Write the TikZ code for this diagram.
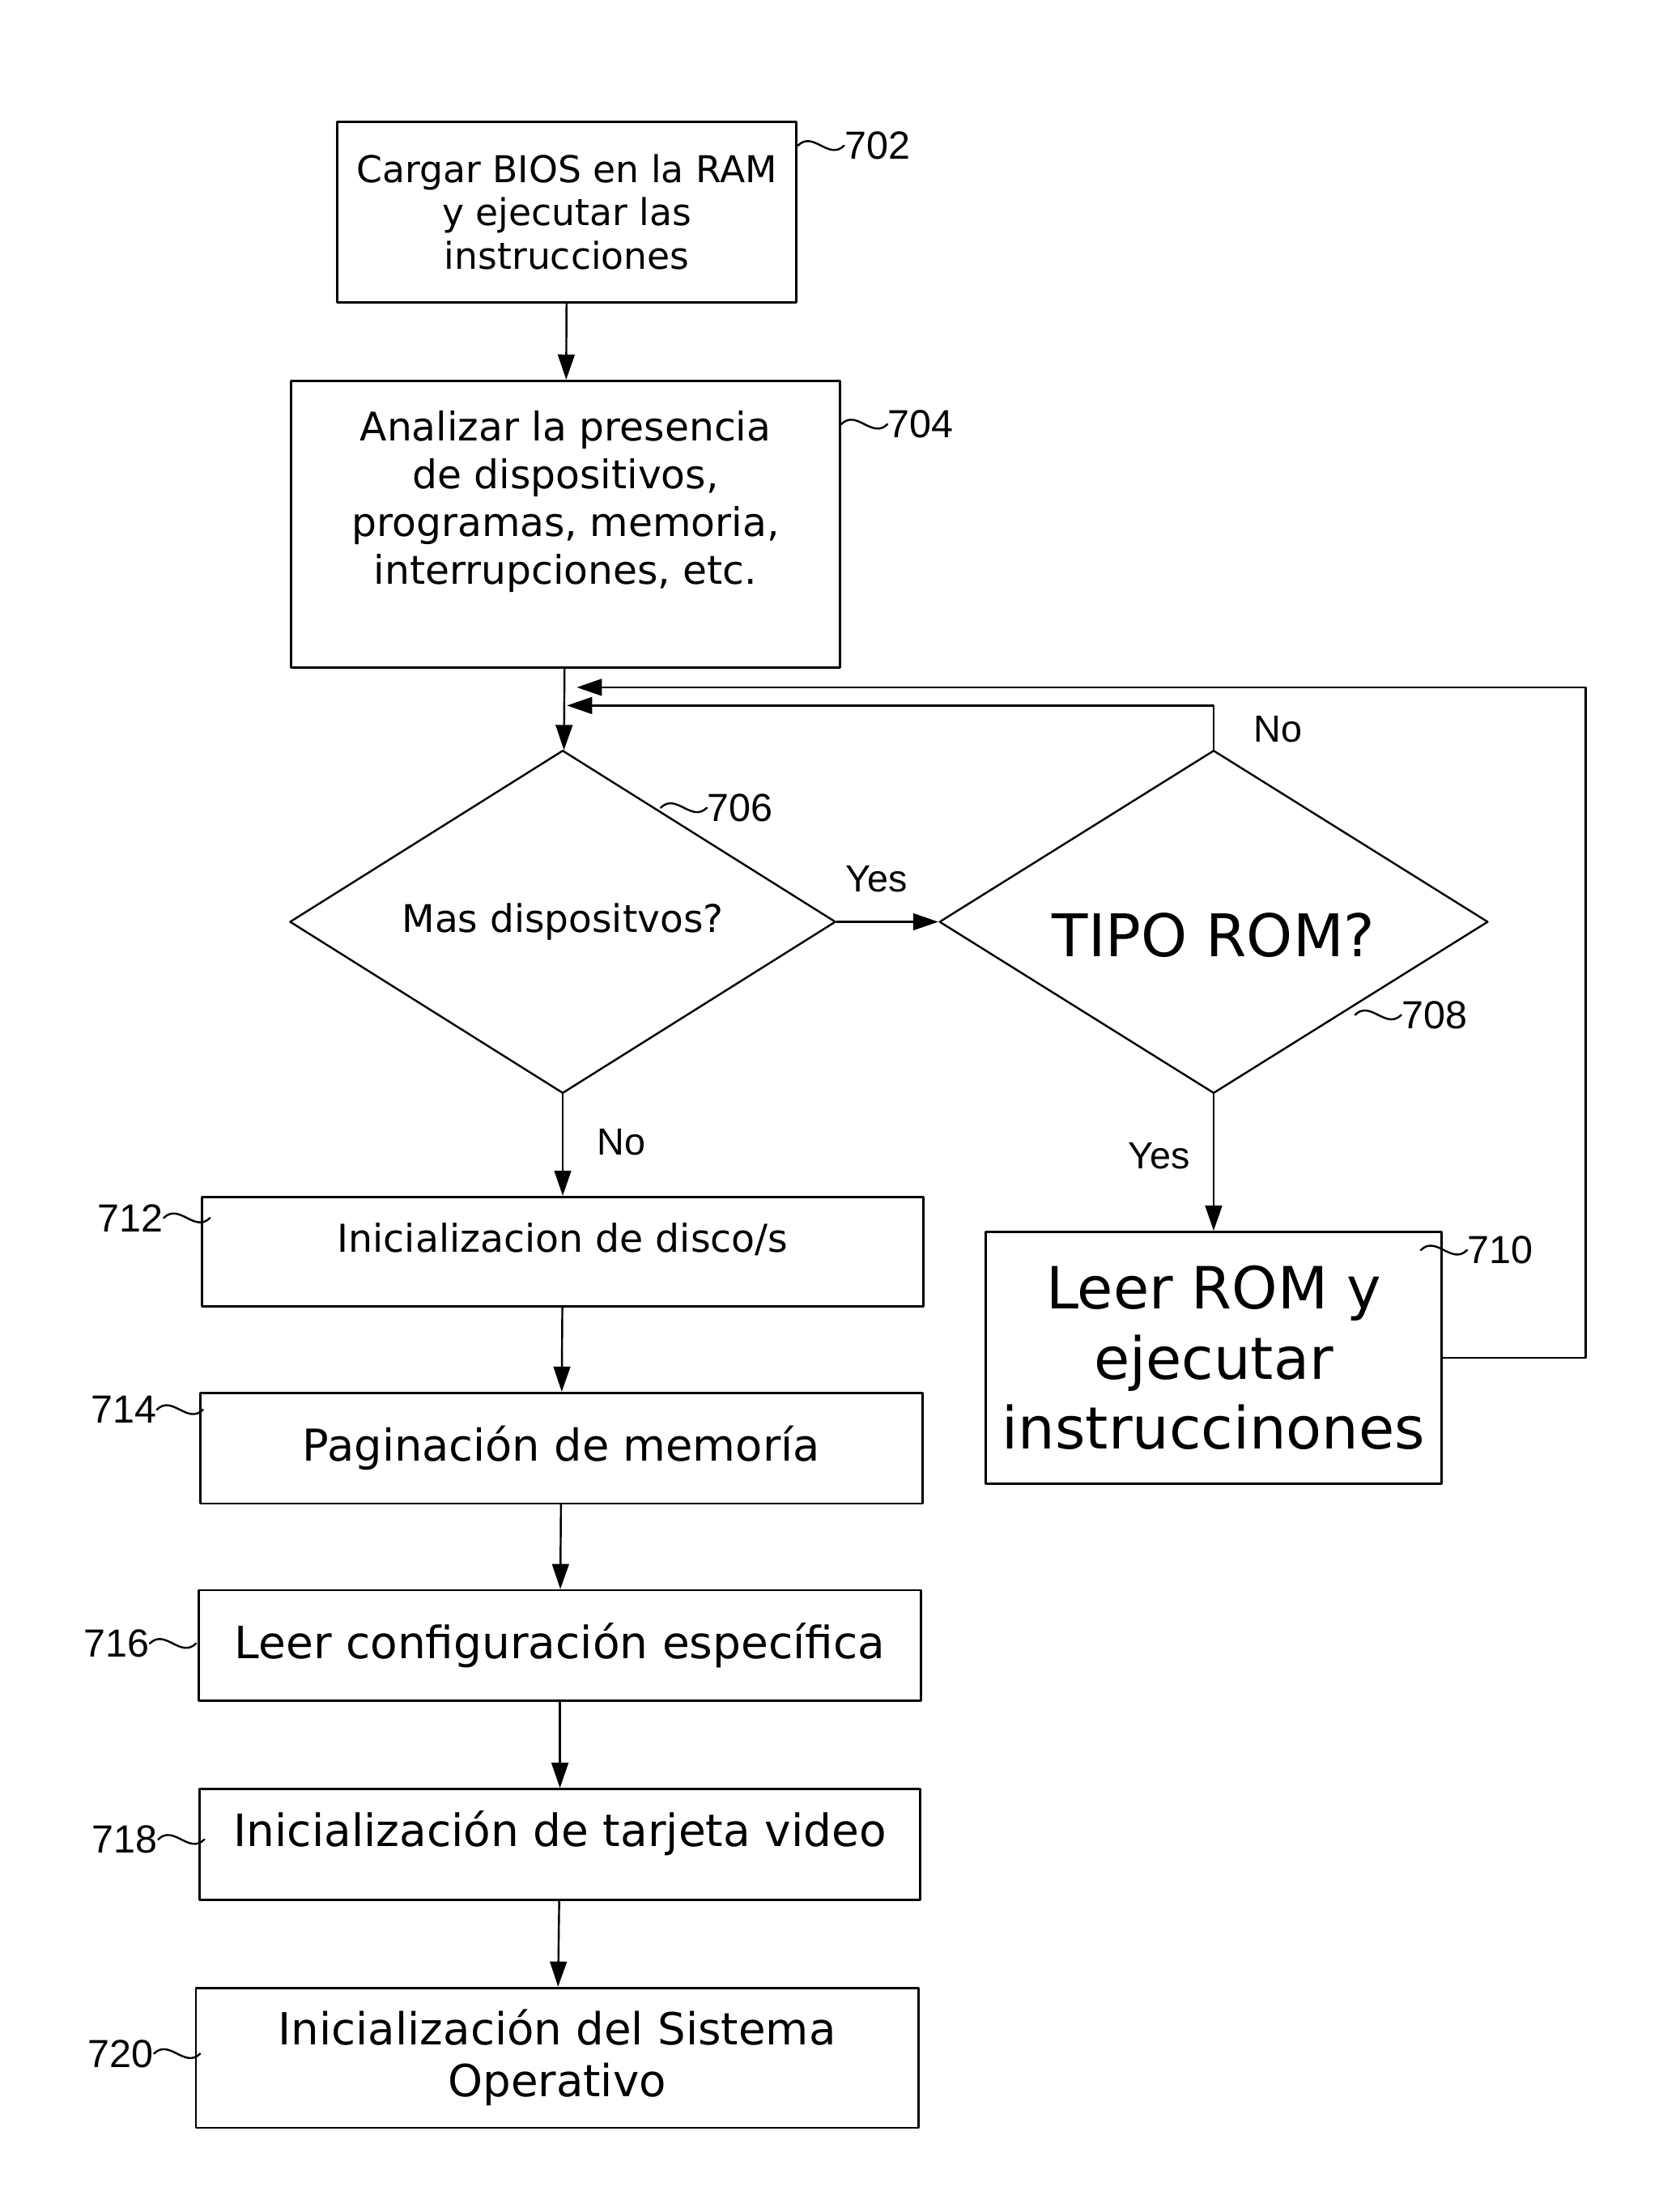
\documentclass[tikz,border=0pt]{standalone}
\usepackage{fontspec}
\setmainfont{DejaVu Sans}
\newfontfamily\numfont{Liberation Sans}
\usetikzlibrary{shapes.geometric,arrows.meta}

\tikzset{
  stepbox/.style={draw,line width=0.8pt,inner sep=2pt,align=center},
  choice/.style={diamond,draw,line width=0.7pt,inner sep=0pt,aspect=1.6,
    minimum width=195pt,minimum height=122.5pt},
  arr/.style={line width=0.7pt,-{Triangle[length=9pt,width=6pt]}},
  num/.style={font=\numfont\fontsize{14}{16}\selectfont,inner sep=0pt},
  answer/.style={font=\numfont\fontsize{13.5}{16}\selectfont,inner sep=0pt},
  squig/.pic={\draw[line width=0.7pt] (0,0) .. controls (11,-11) and (22,11) .. (33,0);}
}

\begin{document}
\begin{tikzpicture}[x=0.5pt,y=-0.5pt,line cap=round,line join=round]
    \useasboundingbox (0,0) rectangle (1200,1568);
    % main column
    \node[stepbox,minimum width=164pt,minimum height=64.5pt,
      font=\fontsize{13.2}{15.5}\selectfont] (cargar) at (405,151.5)
      {Cargar BIOS en la RAM\\y ejecutar las\\instrucciones};
    \node[stepbox,minimum width=196pt,minimum height=102.5pt,text depth=19pt,
      font=\fontsize{14.1}{17}\selectfont] (analizar) at (404,374.5)
      {Analizar la presencia\\de dispositivos,\\programas, memoria,\\interrupciones, etc.};
    \node[choice,font=\fontsize{13.6}{16}\selectfont] (mas) at (402,658.5) {Mas dispositvos?};
    \node[choice,minimum width=196pt,text height=25pt,
      font=\fontsize{21}{25}\selectfont] (tipo) at (867,658.5) {TIPO ROM?};
    \node[stepbox,minimum width=163pt,minimum height=90pt,
      font=\fontsize{20.8}{25}\selectfont] (leer) at (867,970)
      {Leer ROM y\\ejecutar\\instruccinones};
    \node[stepbox,minimum width=257.5pt,minimum height=39pt,text depth=10pt,
      font=\fontsize{13.7}{16}\selectfont] (disco) at (402,894) {Inicializacion de disco/s};
    \node[stepbox,minimum width=258pt,minimum height=39.5pt,
      font=\fontsize{15.7}{18.5}\selectfont] (pagina) at (401,1034.5) {Paginación de memoría};
    \node[stepbox,minimum width=258pt,minimum height=39.5pt,
      font=\fontsize{15.9}{18.5}\selectfont] (config) at (400,1175.5) {Leer configuración específica};
    \node[stepbox,minimum width=257.5pt,minimum height=39.5pt,text depth=11pt,
      font=\fontsize{15.9}{18.5}\selectfont] (video) at (400,1317.5) {Inicialización de tarjeta video};
    \node[stepbox,minimum width=258pt,minimum height=50pt,
      font=\fontsize{15.8}{18.5}\selectfont] (sistema) at (398,1470)
      {Inicialización del Sistema\\Operativo};

    % reference numbers
    \foreach \x/\y/\n in {570/104/702, 601/303/704, 472/577/706, 968/725/708, 1015/893/710}{
      \pic at (\x,\y) {squig};
      \node[num,anchor=west] (n\n) at (\x+33,\y) {\n};
    }
    \foreach \x/\y/\n in {117/870/712, 112/1007/714, 107/1174/716, 113/1314/718, 110/1467/720}{
      \pic at (\x,\y) {squig};
      \node[num,anchor=east] (n\n) at (\x,\y) {\n};
    }

    \node[answer] (yesa) at (626,628) {Yes};
    \node[answer] (noa) at (444,816) {No};
    \node[answer] (yesb) at (828,826) {Yes};
    \node[answer] (nob) at (913,521) {No};

    \coordinate (j1) at (412,491);
    \coordinate (j2) at (405,504);

    \draw[arr] (cargar) -- (analizar);
    \draw[arr] (analizar) -- (mas);
    \draw[arr] (mas) -- (tipo);
    \draw[arr] (tipo) -- (leer);
    \draw[arr] (mas) -- (disco);
    \draw[arr] (disco) -- (pagina);
    \draw[arr] (pagina) -- (config);
    \draw[arr] (config) -- (video);
    \draw[arr] (video) -- (sistema);
    \draw[arr] (leer.east) -- ++(102,0) |- (j1);
    \draw[arr] (tipo.north) |- (j2);
  \end{tikzpicture}
\end{document}
